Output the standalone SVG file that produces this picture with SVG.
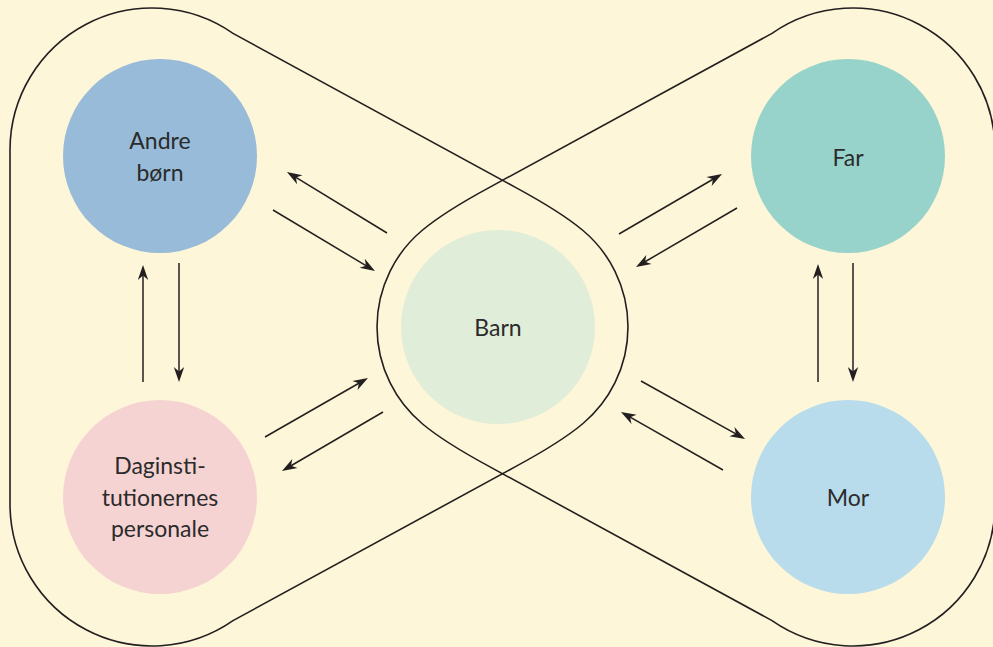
<svg xmlns="http://www.w3.org/2000/svg" width="993" height="647" viewBox="0 0 993 647">
  <defs>
    <marker id="ah" viewBox="-16 -6 17 12" markerWidth="17" markerHeight="12" refX="-10" refY="0" orient="auto" markerUnits="userSpaceOnUse">
      <path d="M0,0 L-15,-5.2 L-10.5,0 L-15,5.2 Z" fill="#231f20"/>
    </marker>
    <path id="lobe" d="M10,150 A142 142 0 0 1 233,33.4 L515,187.1 C537,199 563.9,214.4 583,230.5 A126 126 0 0 1 583,423.5 C563.9,439.6 537,455 515,466.9 L233,620.6 A142 142 0 0 1 10,504 Z"/>
  </defs>
  <style>
    .outline { fill: none; stroke: #231f20; stroke-width: 1.6; }
    .arrow { fill: none; stroke: #231f20; stroke-width: 1.5; marker-end: url(#ah); }
    .label { font-family: Lato, "Open Sans", "Liberation Sans", sans-serif; font-size: 23px; fill: #2b2b2b; text-anchor: middle; }
  </style>
  <rect x="0" y="0" width="993" height="647" fill="#fdf6d8"/>

  <g id="regions">
    <use href="#lobe" class="outline"/>
    <use href="#lobe" class="outline" transform="translate(1005,0) scale(-1,1)"/>
  </g>

  <g id="node-andre-born">
    <circle cx="160" cy="156" r="97" fill="#97bbd8"/>
    <text class="label" x="160" y="149">Andre</text>
    <text class="label" x="160" y="181">børn</text>
  </g>

  <g id="node-daginstitutionernes-personale">
    <circle cx="160" cy="497" r="97" fill="#f6d3d3"/>
    <text class="label" x="160" y="474">Daginsti-</text>
    <text class="label" x="160" y="506">tutionernes</text>
    <text class="label" x="160" y="537">personale</text>
  </g>

  <g id="node-barn">
    <circle cx="498" cy="327" r="97" fill="#e0edd8"/>
    <text class="label" x="498" y="336">Barn</text>
  </g>

  <g id="node-far">
    <circle cx="848" cy="156" r="97" fill="#97d3cb"/>
    <text class="label" x="848" y="166">Far</text>
  </g>

  <g id="node-mor">
    <circle cx="848" cy="497" r="97" fill="#b8dcec"/>
    <text class="label" x="848" y="506">Mor</text>
  </g>

  <g id="connectors">
    <path class="arrow" d="M387,233 L295.5,177.2"/>
    <path class="arrow" d="M273,210 L366.4,265.9"/>
    <path class="arrow" d="M143,382 L143,275"/>
    <path class="arrow" d="M179,263 L179,372"/>
    <path class="arrow" d="M265,437 L359.3,383"/>
    <path class="arrow" d="M383,412 L290.6,466"/>
    <path class="arrow" d="M619,234 L713.4,179"/>
    <path class="arrow" d="M737,208 L644.6,262"/>
    <path class="arrow" d="M818,382 L818,274"/>
    <path class="arrow" d="M853,263 L853,372"/>
    <path class="arrow" d="M641,381 L736.3,434.1"/>
    <path class="arrow" d="M723,470 L629.7,416.9"/>
  </g>
</svg>
